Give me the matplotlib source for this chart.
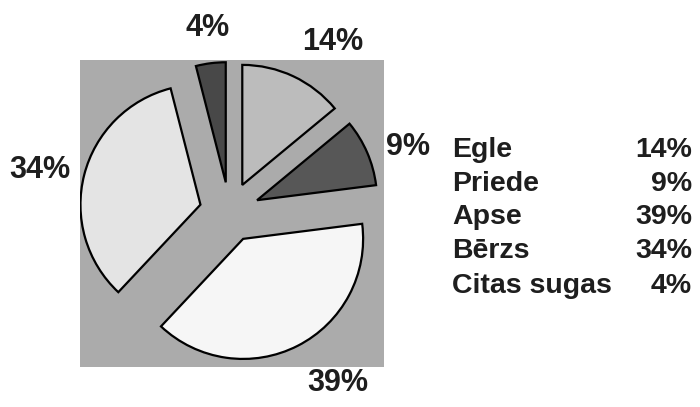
import matplotlib
matplotlib.use("Agg")
import matplotlib.pyplot as plt

# data
species = ["Egle", "Priede", "Apse", "Bērzs", "Citas sugas"]
shares = [14, 9, 39, 34, 4]
slice_colors = ["#bcbcbc", "#575757", "#f6f6f6", "#e4e4e4", "#484848"]

plt.rcParams["font.family"] = ["Liberation Sans", "DejaVu Sans"]
plt.rcParams["font.weight"] = "bold"

fig = plt.figure(figsize=(7.0, 4.07), dpi=100)
ax = fig.add_axes([80 / 700, 40 / 407, 304 / 700, 307 / 407])

wedges, _ = ax.pie(shares, colors=slice_colors, startangle=90, counterclock=False,
                   explode=[0.25] * len(shares), radius=1.0,
                   wedgeprops=dict(edgecolor="black", linewidth=1.6))
ax.set_frame_on(True)   # pie() turns the frame off, we want the grey square
ax.set_facecolor("#ababab")
for w in wedges:
    w.set_clip_on(True)
ax.set_xlim(-1.246, 1.2875)
ax.set_ylim(-1.29, 1.267)
ax.set_aspect("auto")
ax.set_xticks([])
ax.set_yticks([])
for s in ax.spines.values():
    s.set_visible(False)

# percentage labels around the pie (pixel positions from the top-left)
label_pos = [(333, 42), (408, 147), (338, 383), (40, 170), (208, 28)]
for (px, py), v in zip(label_pos, shares):
    fig.text(px / 700, 1 - py / 407, f"{v}%", ha="center", va="center",
             fontsize=22, fontweight="bold", color="#1e1e1e")

# text legend on the right
row_y = [150, 184, 217, 251, 286]
for name, v, py in zip(species, shares, row_y):
    fig.text(452 / 700, 1 - py / 407, name, ha="left", va="center",
             fontsize=20.5, fontweight="bold", color="#1e1e1e")
    fig.text(692 / 700, 1 - py / 407, f"{v}%", ha="right", va="center",
             fontsize=20.5, fontweight="bold", color="#1e1e1e")

fig.savefig("out.png", dpi=100, facecolor="white")
